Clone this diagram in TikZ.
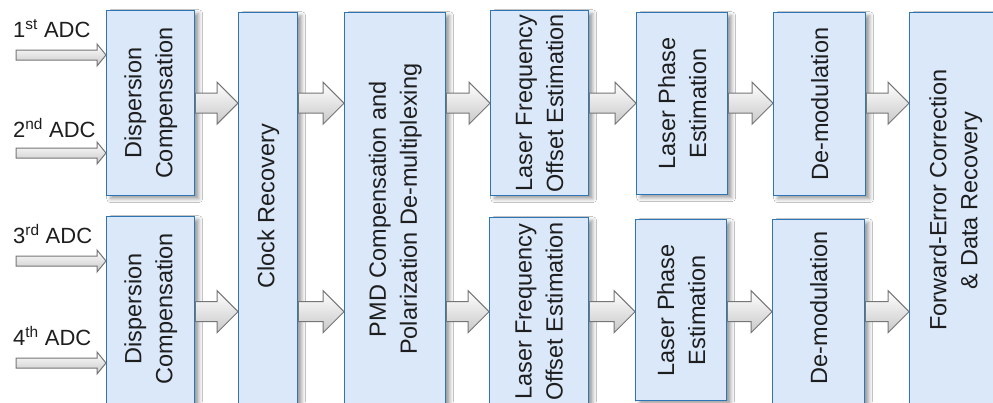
\documentclass[tikz,border=0pt]{standalone}
\usepackage{fontspec}
\setmainfont{Liberation Sans}
\usetikzlibrary{calc,shadows.blur}

\definecolor{boxfill}{RGB}{218,232,250}
\definecolor{boxline}{RGB}{46,117,182}
\definecolor{arrline}{RGB}{118,118,118}
\definecolor{arrshade}{RGB}{200,200,200}
\definecolor{txt}{RGB}{30,30,30}

\tikzset{
  % block arrow drawn from the start point to the target, at the start point's height
  % #1 = half shaft height, #2 = half head height, #3 = head length
  blockarrow/.style n args={3}{to path={let \p1=(\tikztostart), \p2=(\tikztotarget) in
      (\x1,\y1+#1) -- (\x2-#3,\y1+#1) -- (\x2-#3,\y1+#2) -- (\x2,\y1)
      -- (\x2-#3,\y1-#2) -- (\x2-#3,\y1-#1) -- (\x1,\y1-#1) -- cycle}},
  arrowlook/.style={draw=arrline, line join=miter, top color=white, bottom color=arrshade},
  bigarrow/.style={arrowlook, line width=1pt, blockarrow={10pt}{21pt}{21pt}},
  adcarrow/.style={arrowlook, line width=1pt, blockarrow={5pt}{11pt}{9pt}},
  box/.style={draw=boxline, line width=1.4pt, fill=boxfill, anchor=north west, inner sep=0pt,
    blur shadow={shadow xshift=4pt, shadow yshift=-3pt, shadow blur radius=4pt, shadow opacity=40}},
  boxtext/.style={rotate=90, align=center, text=txt, inner sep=0pt,
    font=\fontsize{23.5}{31}\selectfont},
  adctext/.style={anchor=base west, text=txt, inner sep=0pt,
    font=\fontsize{22}{26}\selectfont},
}

\begin{document}
\begin{tikzpicture}[x=1pt,y=-1pt]
  \useasboundingbox (0,0) rectangle (993,402);
  \fill[white] (0,0) rectangle (993,402);
  \clip (0,0) rectangle (993,402);

  % processing blocks
  \node[box, minimum width=88pt,  minimum height=185pt] (dcA) at (106,10)  {};
  \node[box, minimum width=88pt,  minimum height=190pt] (dcB) at (106,216) {};
  \node[box, minimum width=59pt,  minimum height=393pt] (clk) at (238,12)  {};
  \node[box, minimum width=101pt, minimum height=393pt] (pmd) at (344,12)  {};
  \node[box, minimum width=98pt,  minimum height=185pt] (lfA) at (490,10)  {};
  \node[box, minimum width=99pt,  minimum height=188pt] (lfB) at (489,217) {};
  \node[box, minimum width=91pt,  minimum height=182pt] (lpA) at (636,12)  {};
  \node[box, minimum width=91pt,  minimum height=181pt] (lpB) at (635,219) {};
  \node[box, minimum width=92pt,  minimum height=183pt] (dmA) at (773,12)  {};
  \node[box, minimum width=92pt,  minimum height=186pt] (dmB) at (772,219) {};
  \node[box, minimum width=92pt,  minimum height=393pt] (fec) at (909,12)  {};

  % block labels
  \node[boxtext] (tdcA) at (dcA.center) {Dispersion\\Compensation};
  \node[boxtext] (tdcB) at ([yshift=3pt]dcB.center) {Dispersion\\Compensation};
  \node[boxtext] (tclk) at ([yshift=3pt]clk.center) {Clock Recovery};
  \node[boxtext] (tpmd) at (pmd.center) {PMD Compensation and\\Polarization De-multiplexing};
  \node[boxtext] (tlfA) at (lfA.center) {Laser Frequency\\Offset Estimation};
  \node[boxtext] (tlfB) at (lfB.center) {Laser Frequency\\Offset Estimation};
  \node[boxtext] (tlpA) at (lpA.center) {Laser Phase\\Estimation};
  \node[boxtext] (tlpB) at (lpB.center) {Laser Phase\\Estimation};
  \node[boxtext] (tdmA) at (dmA.center) {De-modulation};
  \node[boxtext] (tdmB) at ([yshift=5pt]dmB.center) {De-modulation};
  \node[boxtext] (tfec) at ([yshift=9pt]fec.center) {Forward-Error Correction\\\& Data Recovery};

  % ADC inputs
  \coordinate (adc1) at (16,55);
  \coordinate (adc2) at (16,153);
  \coordinate (adc3) at (16,261);
  \coordinate (adc4) at (16,363);
  \node[adctext] (l1) at (13,37)  {1\textsuperscript{st} ADC};
  \node[adctext] (l2) at (13,137) {2\textsuperscript{nd} ADC};
  \node[adctext] (l3) at (13,243) {3\textsuperscript{rd} ADC};
  \node[adctext] (l4) at (13,345) {4\textsuperscript{th} ADC};
  \draw[adcarrow] (adc1) to (dcA.west |- adc1);
  \draw[adcarrow] (adc2) to (dcA.west |- adc2);
  \draw[adcarrow] (adc3) to (dcB.west |- adc3);
  \draw[adcarrow] (adc4) to (dcB.west |- adc4);

  % signal flow between blocks
  \draw[bigarrow] (dcA.east) to (clk.west |- dcA.east);
  \draw[bigarrow] (dcB.east) to (clk.west |- dcB.east);
  \draw[bigarrow] (clk.east |- dcA.east) to (pmd.west |- dcA.east);
  \draw[bigarrow] (clk.east |- dcB.east) to (pmd.west |- dcB.east);
  \draw[bigarrow] (pmd.east |- dcA.east) to (lfA.west |- dcA.east);
  \draw[bigarrow] (pmd.east |- dcB.east) to (lfB.west |- dcB.east);
  \draw[bigarrow] (lfA.east |- dcA.east) to (lpA.west |- dcA.east);
  \draw[bigarrow] (lfB.east |- dcB.east) to (lpB.west |- dcB.east);
  \draw[bigarrow] (lpA.east |- dcA.east) to (dmA.west |- dcA.east);
  \draw[bigarrow] (lpB.east |- dcB.east) to (dmB.west |- dcB.east);
  \draw[bigarrow] (dmA.east |- dcA.east) to (fec.west |- dcA.east);
  \draw[bigarrow] (dmB.east |- dcB.east) to (fec.west |- dcB.east);
\end{tikzpicture}
\end{document}
